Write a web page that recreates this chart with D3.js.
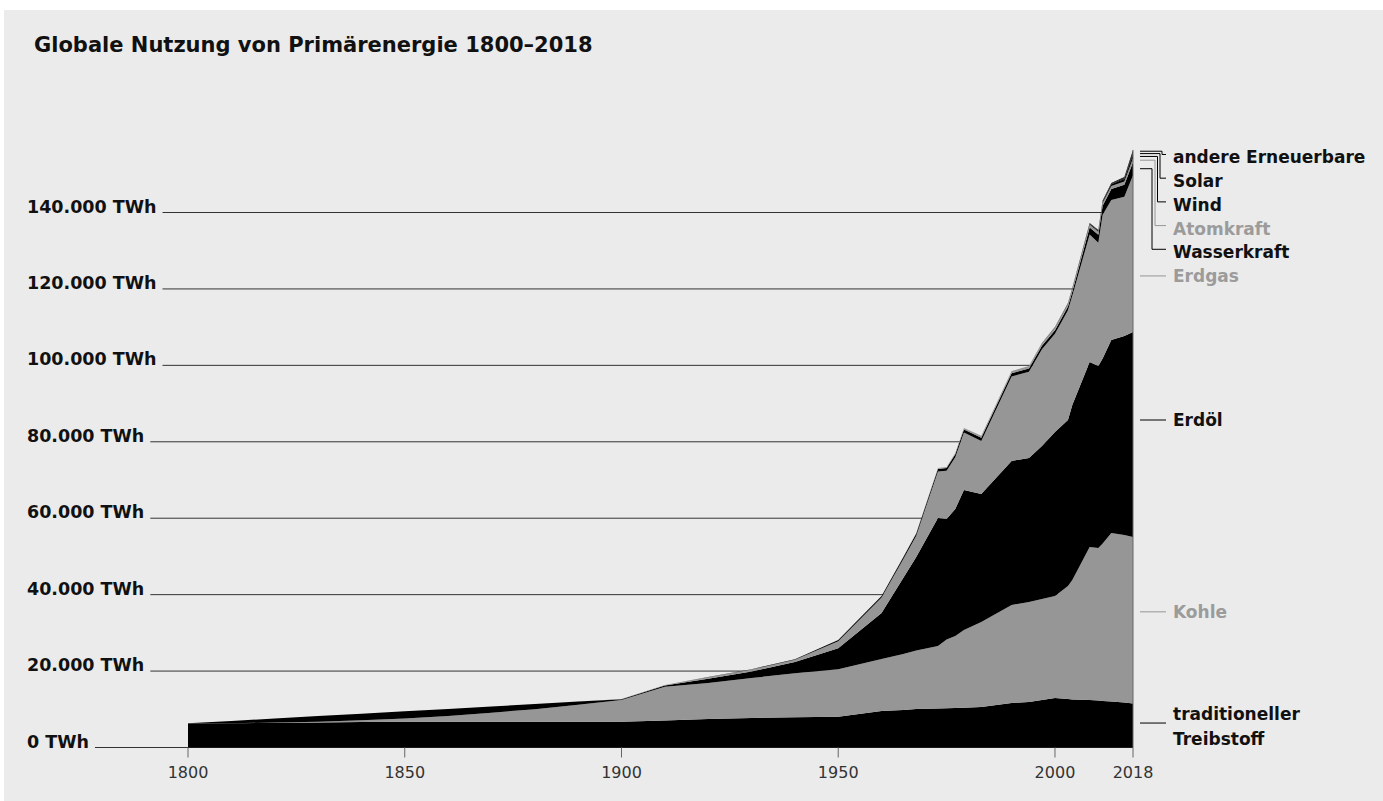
<!DOCTYPE html>
<html>
<head>
<meta charset="utf-8">
<script src="https://cdn.jsdelivr.net/npm/d3@7"></script>
<style>
  body { margin: 0; background: #fff; }
  svg { display: block; }
</style>
</head>
<body>
<svg id="chart" width="1383" height="801"></svg>
<script>
// values in TWh
const years = [1800, 1810, 1820, 1830, 1840, 1850, 1860, 1870, 1880, 1890,
  1900, 1910, 1920, 1930, 1940, 1950, 1960, 1965, 1968, 1973, 1975, 1977, 1979, 1983,
  1990, 1994, 1997, 2000, 2003, 2004, 2008, 2010, 2011, 2013, 2016, 2018];

const traditional = [6250, 6350, 6450, 6550, 6650, 6720, 6760, 6760, 6760, 6760,
  6750, 7070, 7460, 7720, 7900, 8060, 9550, 9810, 10080, 10210, 10260, 10340, 10390, 10600,
  11650, 11910, 12430, 12950, 12690, 12560, 12430, 12300, 12170, 12040, 11780, 11510];
const coal = [0, 20, 60, 180, 450, 900, 1500, 2350, 3250, 4400,
  5680, 8850, 9420, 10470, 11510, 12400, 13610, 14660, 15310, 16360, 18010, 18840, 20360, 22240,
  25650, 26170, 26430, 26690, 29570, 31270, 40040, 39910, 41220, 44100, 43830, 43570];
const oil = [80, 590, 1080, 1490, 1750, 1860, 1840, 1620, 1350, 860,
  210, 300, 1100, 1700, 2960, 5500, 12040, 19890, 24470, 33500, 31540, 33240, 36640, 33500,
  37680, 37680, 40040, 42920, 43440, 45800, 48410, 47630, 48410, 50510, 52080, 53650];
const gas = [0, 0, 0, 0, 0, 0, 0, 0, 0, 0,
  50, 145, 400, 500, 600, 1860, 4060, 4890, 5570, 12170, 12590, 13560, 15020, 13870,
  22090, 22560, 25310, 25710, 28700, 28580, 33370, 32220, 37580, 36590, 36430, 41030];
const hydro = [0, 0, 0, 0, 0, 0, 0, 0, 0, 0,
  0, 0, 70, 100, 120, 310, 390, 520, 580, 650, 710, 730, 790, 840,
  860, 890, 920, 940, 990, 1050, 1830, 2090, 2355, 2880, 3140, 3400];
const nuclear = [0, 0, 0, 0, 0, 0, 0, 0, 0, 0,
  0, 0, 0, 0, 0, 0, 0, 80, 130, 260, 310, 370, 420, 500,
  600, 630, 650, 680, 710, 730, 785, 785, 785, 785, 840, 1050];
const wind = [0, 0, 0, 0, 0, 0, 0, 0, 0, 0,
  0, 0, 0, 0, 0, 0, 0, 0, 0, 0, 0, 0, 0, 0,
  0, 0, 30, 50, 105, 130, 210, 262, 340, 470, 680, 920];
const solar = [0, 0, 0, 0, 0, 0, 0, 0, 0, 0,
  0, 0, 0, 0, 0, 0, 0, 0, 0, 0, 0, 0, 0, 0,
  0, 0, 10, 15, 15, 15, 26, 52, 79, 130, 260, 575];
const otherRenewables = [0, 0, 0, 0, 0, 0, 0, 0, 0, 0,
  0, 0, 0, 0, 0, 0, 0, 0, 0, 0, 0, 0, 0, 0,
  0, 0, 40, 80, 105, 120, 157, 183, 209, 235, 260, 655];

const xTicks = [1800, 1850, 1900, 1950, 2000, 2018];
const yTicks = [0, 20000, 40000, 60000, 80000, 100000, 120000, 140000];

const keys = ['trad', 'coal', 'oil', 'gas', 'hydro', 'nuclear', 'wind', 'solar', 'other'];
const labels = {
  trad: ['traditioneller', 'Treibstoff'], coal: ['Kohle'], oil: ['Erdöl'], gas: ['Erdgas'],
  hydro: ['Wasserkraft'], nuclear: ['Atomkraft'], wind: ['Wind'], solar: ['Solar'],
  other: ['andere Erneuerbare']
};
// where the labels of the big layers sit (TWh)
const labelAt = { trad: 6400, coal: 35500, oil: 85700, gas: 123400 };

const BLACK = '#000', GREY = '#969696';
const color = {
  trad: BLACK, coal: GREY, oil: BLACK, gas: GREY, hydro: BLACK,
  nuclear: GREY, wind: BLACK, solar: BLACK, other: BLACK
};
const textColor = c => c === GREY ? '#9b9b9b' : '#111';

const table = years.map((yr, i) => ({
  year: yr, trad: traditional[i], coal: coal[i], oil: oil[i], gas: gas[i],
  hydro: hydro[i], nuclear: nuclear[i], wind: wind[i], solar: solar[i], other: otherRenewables[i]
}));
const series = d3.stack().keys(keys)(table);

const svg = d3.select('#chart');
const boldFont = 'DejaVu Sans, sans-serif';

svg.append('rect')
  .attr('x', 4).attr('y', 10)
  .attr('width', 1383).attr('height', 801)
  .attr('fill', '#ebebeb');

svg.append('text')
  .attr('x', 34).attr('y', 52)
  .attr('font-family', boldFont).attr('font-weight', 'bold')
  .attr('font-size', 21).attr('fill', '#111')
  .text('Globale Nutzung von Primärenergie 1800–2018');

const x = d3.scaleLinear().domain([1800, 2018]).range([188, 1133]);
const y = d3.scaleLinear().domain([0, 140000]).range([747.5, 212.5]);

// y labels + grid lines
const fmt = d3.formatLocale({ decimal: ',', thousands: '.', grouping: [3] }).format(',d');
const grid = svg.append('g');
yTicks.forEach(t => {
  const label = grid.append('text')
    .attr('x', 27).attr('y', y(t))
    .attr('font-family', boldFont).attr('font-weight', 'bold')
    .attr('font-size', 17.5).attr('fill', '#111')
    .text(fmt(t) + ' TWh');
  const w = label.node().getComputedTextLength();
  grid.append('line')
    .attr('x1', 27 + w + 6).attr('x2', x(2018))
    .attr('y1', y(t)).attr('y2', y(t))
    .attr('stroke', '#333').attr('stroke-width', 1);
});

const area = d3.area()
  .x(d => x(d.data.year))
  .y0(d => y(d[0]))
  .y1(d => y(d[1]));

svg.append('g').selectAll('path')
  .data(series)
  .enter().append('path')
  .attr('d', area)
  .attr('fill', d => color[d.key]);

// x axis ticks
const last = series[series.length - 1];
const top2018 = y(last[last.length - 1][1]);
const xg = svg.append('g');
xTicks.forEach(t => {
  xg.append('line')
    .attr('x1', x(t)).attr('x2', x(t))
    .attr('y1', t === 2018 ? top2018 : y(0)).attr('y2', y(0) + 10)
    .attr('stroke', '#666').attr('stroke-width', 1);
  xg.append('text')
    .attr('x', x(t)).attr('y', 778)
    .attr('text-anchor', 'middle')
    .attr('font-family', 'DejaVu Sans, sans-serif')
    .attr('font-size', 16).attr('fill', '#333')
    .text(t);
});

// legend on the right
const lg = svg.append('g');
const lx0 = x(2018) + 7, lx1 = x(2018) + 33, tx = x(2018) + 40;
const lastRow = s => s[s.length - 1];

['trad', 'coal', 'oil', 'gas'].forEach(k => {
  const ly = y(labelAt[k]);
  const c = color[k];
  lg.append('line')
    .attr('x1', lx0).attr('x2', lx1).attr('y1', ly).attr('y2', ly)
    .attr('stroke', c).attr('stroke-width', 1);
  const lines = labels[k];
  const first = lines.length > 1 ? ly - 3 : ly + 6;
  lines.forEach((s, i) => {
    lg.append('text')
      .attr('x', tx).attr('y', first + i * 25)
      .attr('font-family', boldFont).attr('font-weight', 'bold')
      .attr('font-size', 17).attr('fill', textColor(c))
      .text(s);
  });
});

const topKeys = ['other', 'solar', 'wind', 'nuclear', 'hydro'];
const elbowX = [1162, 1160, 1157.5, 1155, 1152];
topKeys.forEach((k, i) => {
  const s = series.find(d => d.key === k);
  const r = lastRow(s);
  const sy = y((r[0] + r[1]) / 2);
  const base = top2018 + 13.5 + i * 23.7;
  const hy = base - 9;
  const c = color[k];
  lg.append('path')
    .attr('d', `M${lx0},${sy}H${elbowX[i]}V${hy}H${lx1}`)
    .attr('fill', 'none').attr('stroke', c).attr('stroke-width', 1);
  lg.append('text')
    .attr('x', tx).attr('y', base)
    .attr('font-family', boldFont).attr('font-weight', 'bold')
    .attr('font-size', 17).attr('fill', textColor(c))
    .text(labels[k][0]);
});
</script>
</body>
</html>
